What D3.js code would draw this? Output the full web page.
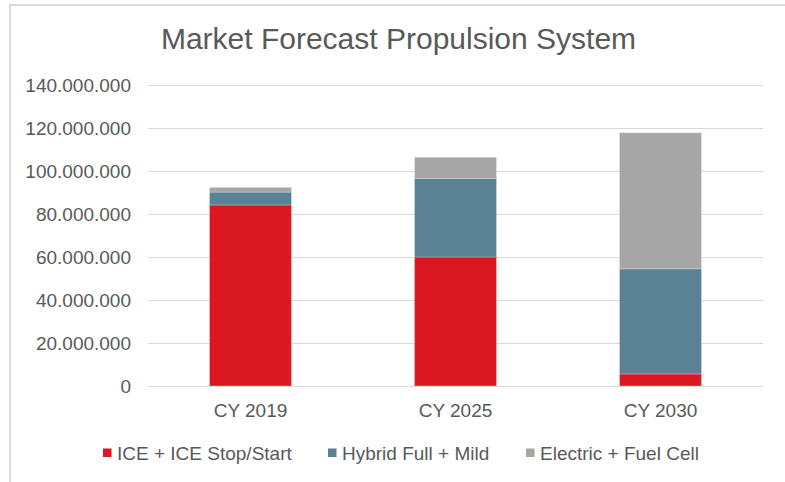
<!DOCTYPE html>
<html>
<head>
<meta charset="utf-8">
<script src="https://cdn.jsdelivr.net/npm/d3@7"></script>
<style>
  html, body { margin: 0; padding: 0; background: #fff; }
  svg { display: block; }
  text { font-family: "Liberation Sans", Arial, sans-serif; fill: #595959; }
</style>
</head>
<body>
<svg id="chart" width="785" height="482"></svg>
<script>
const title = "Market Forecast Propulsion System";
const categories = ["CY 2019", "CY 2025", "CY 2030"];
const seriesNames = ["ICE + ICE Stop/Start", "Hybrid Full + Mild", "Electric + Fuel Cell"];
const iceValues = [84200000, 60000000, 5600000];
const hybridValues = [6000000, 36600000, 48900000];
const electricValues = [2200000, 9800000, 63300000];
const yTicks = [0, 20000000, 40000000, 60000000, 80000000, 100000000, 120000000, 140000000];
const colors = ["#DA1822", "#5B8194", "#A6A6A6"];

const svg = d3.select("#chart");
const plot = { left: 148, right: 763, top: 85, bottom: 386 };

// chart border
svg.append("rect")
  .attr("x", 10).attr("y", 5)
  .attr("width", 790).attr("height", 490)
  .attr("fill", "none").attr("stroke", "#D9D9D9").attr("stroke-width", 2);

// title
svg.append("text")
  .attr("x", 398.5).attr("y", 49)
  .attr("text-anchor", "middle")
  .style("font-size", "30px")
  .text(title);

const rows = categories.map((c, i) => ({
  cat: c,
  [seriesNames[0]]: iceValues[i],
  [seriesNames[1]]: hybridValues[i],
  [seriesNames[2]]: electricValues[i]
}));

const x = d3.scaleBand().domain(categories)
  .range([plot.left, plot.right]).paddingInner(0.6).paddingOuter(0.3);
const y = d3.scaleLinear().domain([0, 140000000]).range([plot.bottom, plot.top]);

const loc = d3.formatLocale({ decimal: ",", thousands: ".", grouping: [3], currency: ["", ""] });
const fmt = loc.format(",");

// gridlines + y labels
const yAxis = d3.axisLeft(y).tickValues(yTicks).tickFormat(fmt)
  .tickSize(-(plot.right - plot.left)).tickPadding(17);
const gy = svg.append("g").attr("transform", `translate(${plot.left},0)`).call(yAxis);
gy.select(".domain").remove();
gy.selectAll(".tick line").attr("stroke", "#D9D9D9").attr("stroke-width", 1);
gy.selectAll(".tick text").style("font-size", "19px").attr("fill", "#595959")
  .attr("dy", "0.35em");

// stacked bars
const stack = d3.stack().keys(seriesNames);
const layers = stack(rows);
svg.append("g").selectAll("g").data(layers).join("g")
  .attr("fill", (d, i) => colors[i])
  .selectAll("rect").data(d => d).join("rect")
  .attr("x", d => x(d.data.cat))
  .attr("width", x.bandwidth())
  .attr("y", d => y(d[1]))
  .attr("height", d => y(d[0]) - y(d[1]))
  .attr("stroke", "#ffffff").attr("stroke-opacity", 0.35).attr("stroke-width", 0.75);

// x labels
const xAxis = d3.axisBottom(x).tickSize(0).tickPadding(0);
const gx = svg.append("g").attr("transform", `translate(0,${plot.bottom})`).call(xAxis);
gx.select(".domain").remove();
gx.selectAll(".tick text").style("font-size", "19px").attr("fill", "#595959")
  .attr("dy", 0).attr("y", 31);

// legend (item left edges in px)
const legendX = [103, 328, 526];
const legend = svg.append("g").attr("transform", "translate(0,460)");
seriesNames.forEach((name, i) => {
  const g = legend.append("g").attr("transform", `translate(${legendX[i]},0)`);
  g.append("rect").attr("x", 0).attr("y", -11.5).attr("width", 8.5).attr("height", 8.5)
    .attr("fill", colors[i]);
  g.append("text").attr("x", 14).attr("y", 0).style("font-size", "19px").text(name);
});
</script>
</body>
</html>
